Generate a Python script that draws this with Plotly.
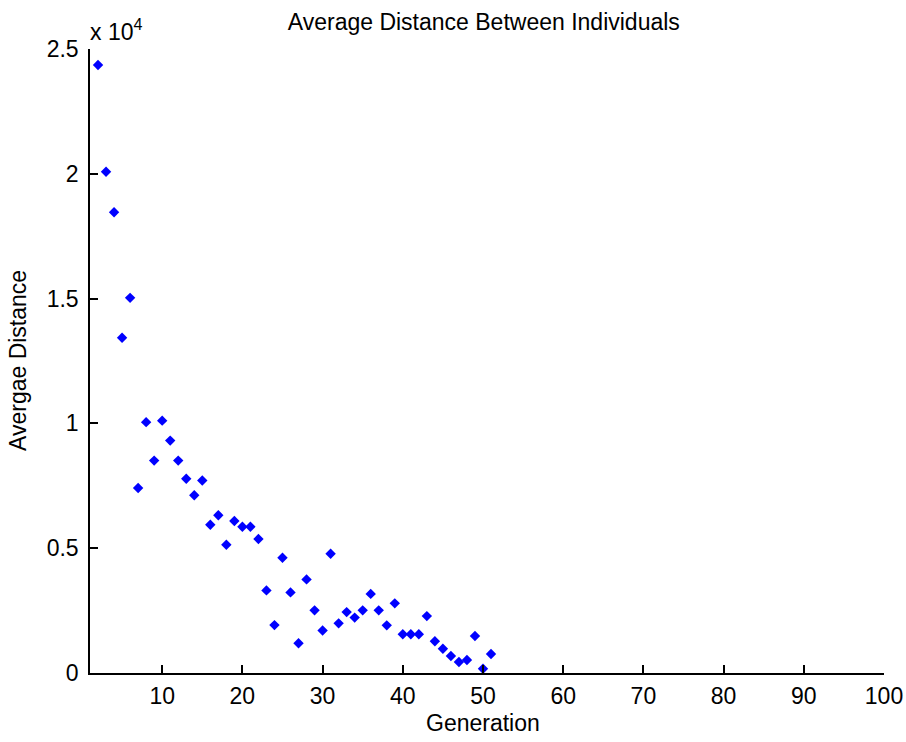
import plotly.graph_objects as go

generations = list(range(2, 52))
avg_distance = [24360, 20080, 18460, 13430, 15030, 7410, 10050, 8510, 10110, 9310,
                8510, 7780, 7120, 7710, 5940, 6320, 5140, 6090, 5860, 5860,
                5370, 3310, 1920, 4620, 3230, 1190, 3750, 2510, 1700, 4780,
                1990, 2440, 2220, 2510, 3170, 2510, 1910, 2790, 1550, 1550,
                1550, 2280, 1270, 970, 680, 440, 520, 1480, 170, 760]

x_ticks = [10, 20, 30, 40, 50, 60, 70, 80, 90, 100]
y_tickvals = [0, 5000, 10000, 15000, 20000, 25000]
y_ticktext = ["0", "0.5", "1", "1.5", "2", "2.5"]

font = "Liberation Sans, Arial, sans-serif"
fs = 23

fig = go.Figure()
fig.add_trace(go.Scatter(
    x=generations, y=avg_distance, mode="markers",
    marker=dict(symbol="diamond", size=8, color="#0000ff", line=dict(width=0)),
    showlegend=False,
))

fig.update_layout(
    width=906, height=742,
    paper_bgcolor="white", plot_bgcolor="white",
    margin=dict(l=90, r=22, t=49, b=69),
    font=dict(family=font, size=fs, color="black"),
    title=dict(text="Average Distance Between Individuals", xref="container", x=0.534,
               xanchor="center", yref="container", y=0.971, yanchor="middle",
               font=dict(size=fs, family=font, color="black")),
    annotations=[
        dict(text="x 10<sup>4</sup>", xref="paper", yref="paper", x=0.0, y=1.0,
             xanchor="left", yanchor="bottom", showarrow=False, yshift=2, xshift=-2,
             font=dict(size=fs, family=font, color="black")),
        dict(text="Generation", xref="paper", yref="paper", x=0.495, y=0.0,
             xanchor="center", yanchor="middle", showarrow=False, yshift=-50,
             font=dict(size=fs, family=font, color="black")),
        dict(text="Avergae Distance", xref="paper", yref="paper", x=0.0, y=0.5,
             xanchor="center", yanchor="middle", showarrow=False, xshift=-72,
             textangle=-90, font=dict(size=fs, family=font, color="black")),
    ],
)
fig.update_xaxes(
    range=[1, 100], tickvals=x_ticks, ticks="inside", ticklen=8, tickwidth=1.5,
    tickcolor="black", showline=True, linecolor="black", linewidth=1.5,
    showgrid=False, zeroline=False, mirror=False, automargin=False,
    ticklabeloverflow="allow", ticklabelstandoff=2,
)
fig.update_yaxes(
    range=[0, 25000], tickvals=y_tickvals, ticktext=y_ticktext, ticks="inside",
    ticklen=8, tickwidth=1.5, tickcolor="black", showline=True, linecolor="black",
    linewidth=1.5, showgrid=False, zeroline=False, mirror=False, automargin=False,
    ticklabeloverflow="allow", ticklabelstandoff=5,
)

fig.write_html("out.html", config={"displayModeBar": False},
               post_script="document.body.style.margin='0';document.body.style.overflow='hidden';")
